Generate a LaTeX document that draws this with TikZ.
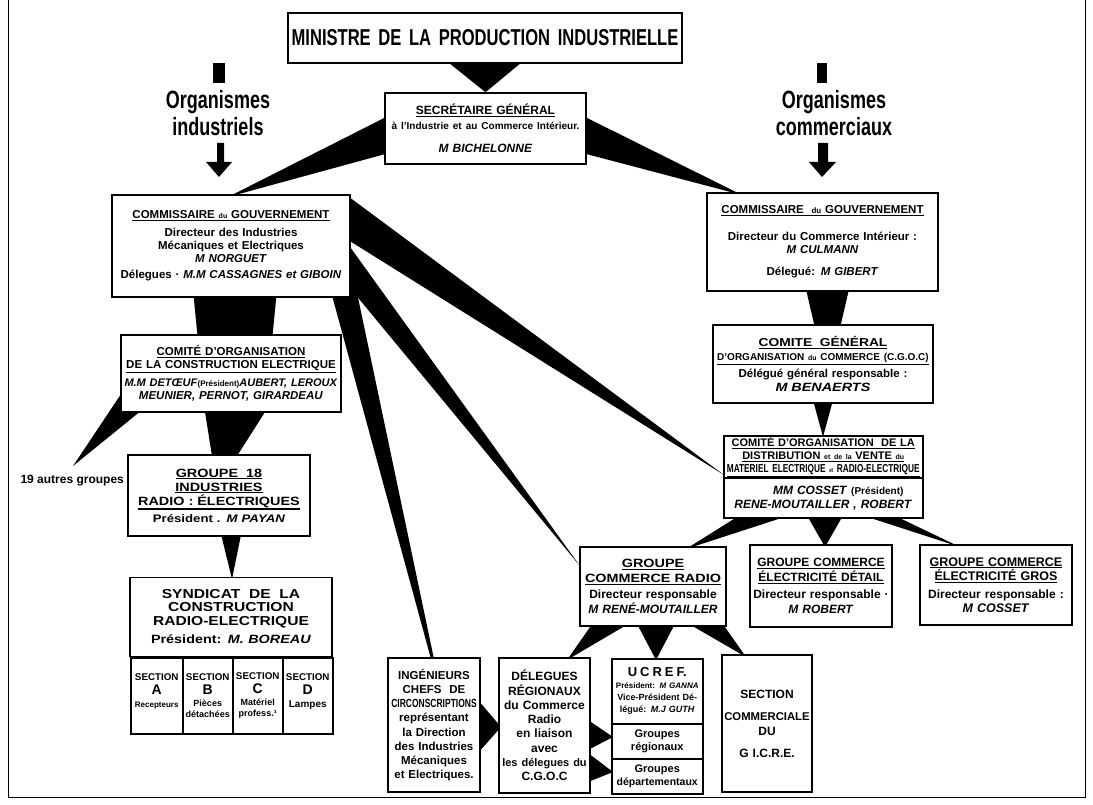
\documentclass[tikz,border=0pt]{standalone}
\usepackage{fontspec}
\setmainfont{Liberation Sans}
\newfontfamily\narrow{Liberation Sans}[FakeStretch=0.72]
\newfontfamily\wide{Liberation Sans}[FakeStretch=1.2]
\usetikzlibrary{backgrounds}
\newcommand\fs[2]{\fontsize{#1}{#2}\selectfont}
\newcommand\ul[1]{\leavevmode\vtop{\hbox{#1}\kern1pt\hrule height 1.2pt}}
\begin{document}
\begin{tikzpicture}[x=1pt,y=-1pt,
  box/.style={draw, line width=1.5pt, fill=white, inner sep=1.5pt, align=center, execute at begin node=\bfseries},
  org/.style={align=center, font={\narrow\fs{25}{27}}, execute at begin node=\bfseries},
  sect/.style={box, minimum height=76pt, anchor=north west, font={\fs{9.8}{11}}},
  wedge/.style={fill=black}]
\useasboundingbox (0,0) rectangle (1093,805);

% ---------- boxes ----------
\node[box, minimum width=394pt, minimum height=50pt, text width=388pt, font={\narrow\fs{23}{26}}] (min) at (485,38) {MINISTRE DE LA PRODUCTION INDUSTRIELLE};

\node[box, minimum width=201pt, minimum height=71pt, text width=197pt, font={\fs{12}{14}}] (sec) at (485.5,128.5)
 {\ul{SECRÉTAIRE GÉNÉRAL}\\[1pt] {\fs{10}{12}à l'Industrie et au Commerce Intérieur.}\\[9pt] \textit{M BICHELONNE}};

\node[org] (orgI) at (218,113) {Organismes\\industriels};
\node[org] (orgC) at (834,113) {Organismes\\commerciaux};

\node[box, minimum width=238pt, minimum height=102pt, text width=234pt, font={\fs{11.5}{13}}] (comL) at (231,246)
 {\ul{COMMISSAIRE {\fs{7}{8}du} GOUVERNEMENT}\\[5pt] Directeur des Industries\\ Mécaniques et Electriques\\ \textit{M NORGUET}\\[3pt] Délegues · \textit{M.M CASSAGNES et GIBOIN}};

\node[box, minimum width=231pt, minimum height=98pt, text width=227pt, font={\fs{11.5}{13}}] (comR) at (822.5,242)
 {\ul{COMMISSAIRE\ \ {\fs{8}{9}du} GOUVERNEMENT}\\[14pt] Directeur du Commerce Intérieur :\\ \textit{M CULMANN}\\[9pt] Délegué: \textit{M GIBERT}};

\node[box, minimum width=220pt, minimum height=77pt, text width=216pt, font={\fs{11.5}{13}}] (coce) at (231,373.5)
 {\ul{COMITÉ D'ORGANISATION}\\ \ul{DE LA CONSTRUCTION ELECTRIQUE}\\[5pt] {\fs{11}{13}\textit{M.M DETŒUF}{\fs{8}{9}(Président)}\textit{AUBERT, LEROUX}}\\ \textit{MEUNIER, PERNOT, GIRARDEAU}};

\node[anchor=base west, font={\fs{12}{14}\bfseries}] (autres) at (17,483) {19 autres groupes};

\node[box, minimum width=182pt, minimum height=81pt, text width=178pt, font={\wide\fs{12}{14}}] (g18) at (219,495.5)
 {\ul{GROUPE\ \ 18}\\ \ul{INDUSTRIES}\\ \ul{RADIO : ÉLECTRIQUES}\\[3pt] {\fs{11}{13}Président . \textit{M PAYAN}}};

\node[box, minimum width=202pt, minimum height=79pt, text width=198pt, font={\wide\fs{13}{13.5}}, anchor=south] (syn) at (231,657)
 {SYNDICAT\ \ DE\ \ LA\\ CONSTRUCTION\\ RADIO-ELECTRIQUE\\[5pt] {\fs{12}{14}Président: \textit{M. BOREAU}}};
\node[sect, minimum width=52pt, text width=49pt] (sA) at (130,657) {SECTION\\[3pt] {\fs{14}{14}A}\\[2pt] {\fs{8}{10}Recepteurs}\\ \mbox{}};
\node[sect, minimum width=50pt, text width=47pt] (sB) at (182,657) {SECTION\\[3pt] {\fs{14}{14}B}\\[2pt] {\fs{9}{10}Pièces\\ détachées}};
\node[sect, minimum width=50pt, text width=47pt] (sC) at (232,657) {SECTION\\[3pt] {\fs{14}{14}C}\\[2pt] {\fs{9}{10}Matériel\\ profess.¹}};
\node[sect, minimum width=50pt, text width=47pt] (sD) at (282,657) {SECTION\\[3pt] {\fs{14}{14}D}\\[2pt] {\fs{10}{10}Lampes}\\ \mbox{}};

\node[box, minimum width=92pt, minimum height=134pt, text width=89pt, font={\fs{11.5}{14.2}}] (ing) at (434,725)
 {INGÉNIEURS\\ CHEFS\ \ DE\\ {\narrow\fs{11.8}{14.2}CIRCONSCRIPTIONS}\\ représentant\\ la Direction\\ des Industries\\ Mécaniques\\ et Electriques.};

\node[box, minimum width=91pt, minimum height=135pt, text width=88pt, font={\fs{12}{14.3}}] (del) at (544.5,725.5)
 {DÉLEGUES\\ RÉGIONAUX\\ du Commerce\\ Radio\\ en liaison\\ avec\\ {\fs{11}{14.3}les délegues du}\\ C.G.O.C};

\node[box, minimum width=91pt, minimum height=65pt, text width=88pt, anchor=north west, font={\fs{9}{12}}] (ucref) at (611,658)
 {{\fs{13}{15}U\ C\ R\ E\ F.}\\ {\fs{8}{12}Président: \textit{M GANNA}}\\ Vice-Président Dé-\\ légué: \textit{M.J GUTH}};
\node[box, minimum width=91pt, minimum height=35pt, text width=88pt, anchor=north west, font={\fs{11}{12.5}}] (grg) at (611,723) {Groupes\\ régionaux};
\node[box, minimum width=91pt, minimum height=35pt, text width=88pt, anchor=north west, font={\fs{11}{12.5}}] (gdp) at (611,758) {Groupes\\ {\fs{10.5}{12.5}départementaux}};

\node[box, minimum width=90pt, minimum height=137pt, text width=87pt, font={\fs{12}{14}}] (secc) at (767,723.5)
 {SECTION\\[8pt] {\fs{11.3}{14}COMMERCIALE}\\[1pt] DU\\[8pt] G I.C.R.E.};

\node[box, minimum width=146pt, minimum height=79pt, text width=143pt, font={\fs{12}{14.5}}] (gcr) at (653,586.5)
 {{\wide\ul{GROUPE}}\\ {\wide\ul{COMMERCE RADIO}}\\[2pt] Directeur responsable\\ \textit{M RENÉ-MOUTAILLER}};

\node[box, minimum width=142pt, minimum height=82pt, text width=139pt, font={\fs{12}{14.5}}] (gced) at (821,586)
 {\ul{GROUPE COMMERCE}\\ \ul{ÉLECTRICITÉ DÉTAIL}\\[3pt] Directeur responsable ·\\ \textit{M ROBERT}};

\node[box, minimum width=152pt, minimum height=80pt, text width=149pt, font={\fs{12.5}{14.5}}] (gceg) at (996,585)
 {\ul{GROUPE COMMERCE}\\ \ul{ÉLECTRICITÉ GROS}\\[3pt] {\fs{12}{14.5}Directeur responsable :}\\ \textit{M COSSET}};

\node[box, minimum width=220pt, minimum height=78pt, text width=216pt, font={\fs{11.5}{14}}] (cgoc) at (823,364)
 {{\wide\ul{COMITE\ \ GÉNÉRAL}}\\ {\fs{10}{13}\ul{D'ORGANISATION {\fs{7}{8}du} COMMERCE (C.G.O.C)}}\\[3pt] Délégué général responsable :\\ {\wide\fs{12}{14}\textit{M BENAERTS}}};

\node[box, minimum width=199pt, minimum height=42pt, text width=196pt, inner sep=1pt, anchor=north west, font={\fs{11}{13}}] (codv) at (723,435)
 {\ul{COMITÉ D'ORGANISATION\ \ DE LA}\\ \ul{DISTRIBUTION {\fs{7}{8}et de la} VENTE {\fs{7}{8}du}}\\ {\narrow\fs{11.5}{13}\ul{MATERIEL ELECTRIQUE {\fs{6}{7}et} RADIO-ELECTRIQUE}}};
\node[box, minimum width=199pt, minimum height=40pt, text width=196pt, anchor=north west, font={\fs{12}{14}}] (codv2) at (723,477)
 {\hspace*{30pt}\textit{MM COSSET} {\fs{10}{12}(Président)}\\ \textit{RENE-MOUTAILLER , ROBERT}};

% ---------- wedges and arrows (behind boxes) ----------
\begin{scope}[on background layer]
\draw[line width=0.8pt] (8,0) -- (8,797) -- (1085,797) -- (1085,0);
% heading arrows
\fill (213,63) rectangle (225,83);
\fill (217,143) -- (224,143) -- (224,162) -- (232,162) -- (219,177) -- (206,162) -- (217,162) -- cycle;
\fill (817,63) rectangle (827,83);
\fill (818,143) -- (828,143) -- (828,162) -- (836,162) -- (822,177) -- (809,162) -- (818,162) -- cycle;
% ministre -> secretaire
\fill[wedge] ([xshift=-35pt]min.south) -- ([xshift=35pt]min.south) -- (sec.north) -- cycle;
% secretaire -> commissaires
\fill[wedge] (400,110) -- (400,150) -- (228,197) -- cycle;
\fill[wedge] (571,110) -- (571,150) -- (742,195) -- cycle;
% commissaire gauche -> comite -> groupe 18
\fill[wedge] (193,290) -- (277,290) -- (265,412) -- (237,456) -- (212,456) -- (205,412) -- cycle;
% comite -> 19 autres groupes
\fill[wedge] (125,388) -- (142,410) -- (73,466) -- cycle;
% groupe 18 -> syndicat
\fill[wedge] (220,530) -- (242,530) -- (232,579) -- cycle;
% commissaire gauche -> ingenieurs, groupe commerce radio, comite distribution
\fill[wedge] (330,288) -- (356,288) -- (434,659) -- (431,659) -- cycle;
\fill[wedge] (345,240) -- (345,282) -- (580,566) -- cycle;
\fill[wedge] (345,194) -- (345,238) -- (724,475) -- cycle;
% commissaire droit -> CGOC -> comite distribution
\fill[wedge] (805,285) -- (850,285) -- (840,328) -- (815,328) -- cycle;
\fill[wedge] (813,400) -- (833,400) -- (823,437) -- cycle;
% comite distribution -> groupes
\fill[wedge] (745,512) -- (800,512) -- (686,549) -- cycle;
\fill[wedge] (805,512) -- (845,512) -- (825,547) -- cycle;
\fill[wedge] (852,512) -- (887,512) -- (960,547) -- cycle;
% groupe commerce radio -> delegues, ucref, section commerciale
\fill[wedge] (595,620) -- (635,620) -- (567,660) -- cycle;
\fill[wedge] (635,620) -- (677,620) -- (656,660) -- cycle;
\fill[wedge] (682,620) -- (720,620) -- (746,657) -- cycle;
% ingenieurs -> delegues
\fill[wedge] (478,700) -- (478,753) -- (501,727) -- cycle;
% delegues -> groupes
\fill[wedge] (588,720) -- (588,750) -- (613,737) -- cycle;
\fill[wedge] (588,753) -- (588,782) -- (613,772) -- cycle;
\end{scope}
\end{tikzpicture}
\end{document}
